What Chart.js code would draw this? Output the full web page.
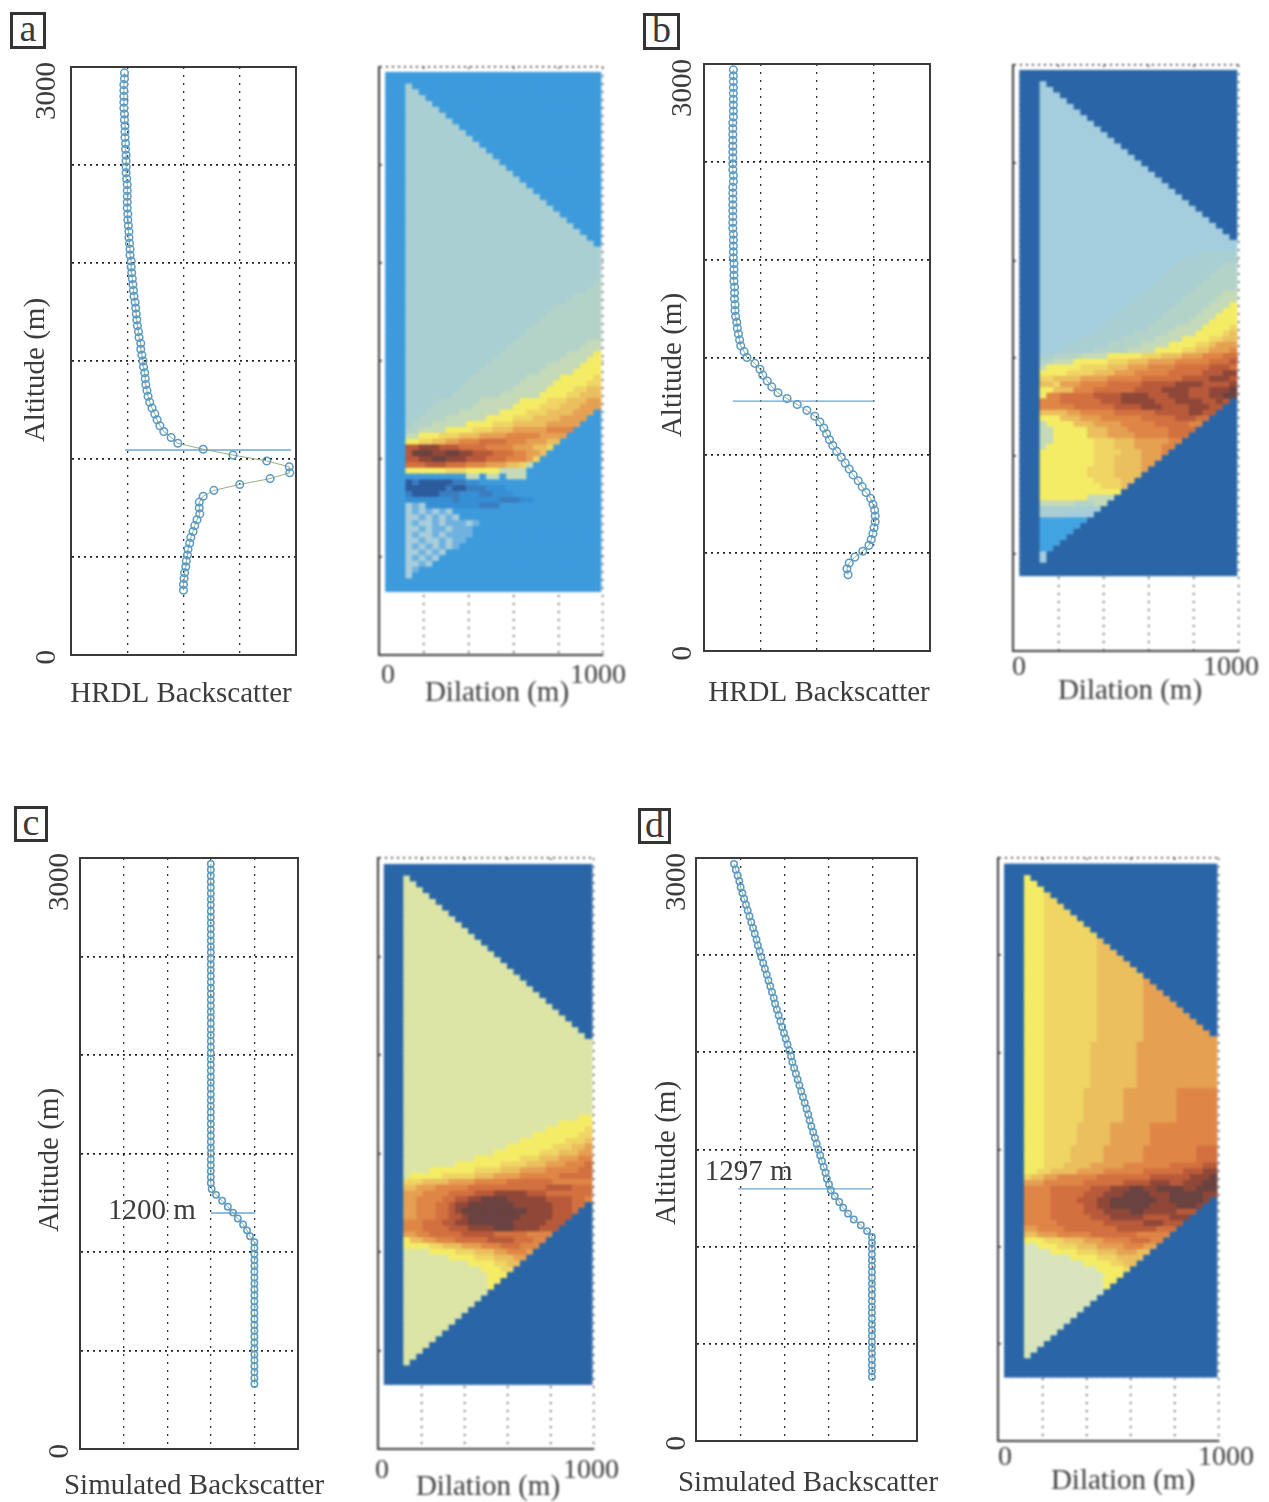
<!DOCTYPE html>
<html>
<head>
<meta charset="utf-8">
<title>Backscatter and dilation</title>
<script src="https://cdn.jsdelivr.net/npm/chart.js@4"></script>
<style>
html, body { margin: 0; padding: 0; background: #fff; }
#page { position: relative; width: 1269px; height: 1502px; overflow: hidden; }
canvas { position: absolute; filter: blur(0.5px); }
canvas.heat { filter: blur(0.9px); }
.letter { position: absolute; box-sizing: border-box; border: 3px solid #333; background: #fff;
    font: 38px "Liberation Serif", serif; color: #3a3a3a; text-align: center; line-height: 27px; }
</style>
</head>
<body>
<div id="page">
    <div class="letter" style="left:10px;top:12px;width:36px;height:37px;">a</div>
    <div class="letter" style="left:643px;top:13px;width:37px;height:37px;">b</div>
    <div class="letter" style="left:14px;top:806px;width:34px;height:36px;">c</div>
    <div class="letter" style="left:638px;top:808px;width:33px;height:36px;">d</div>
</div>
<script>
/* ================= DATA ================= */
var altitudeGates = [
    330, 360, 390, 420, 450, 480, 510, 540, 570, 600, 630, 660, 690, 720, 750,
    780, 810, 840, 870, 900, 930, 960, 990, 1020, 1050, 1080, 1110, 1140, 1170, 1200,
    1230, 1260, 1290, 1320, 1350, 1380, 1410, 1440, 1470, 1500, 1530, 1560, 1590, 1620, 1650,
    1680, 1710, 1740, 1770, 1800, 1830, 1860, 1890, 1920, 1950, 1980, 2010, 2040, 2070, 2100,
    2130, 2160, 2190, 2220, 2250, 2280, 2310, 2340, 2370, 2400, 2430, 2460, 2490, 2520, 2550,
    2580, 2610, 2640, 2670, 2700, 2730, 2760, 2790, 2820, 2850, 2880, 2910, 2940, 2970
];
var dilationCols = [
    45, 75, 105, 135, 165, 195, 225, 255, 285, 315, 345, 375, 405, 435, 465, 495,
    525, 555, 585, 615, 645, 675, 705, 735, 765, 795, 825, 855, 885, 915, 945, 975
];
var altitudeTicks = [0, 3000];
var dilationTicks = [0, 1000];

var aBackscatter = [
    2.00, 2.00, 2.01, 2.02, 2.04, 2.05, 2.07, 2.08, 2.11, 2.13, 2.17, 2.20, 2.24, 2.29, 2.28,
    2.28, 2.35, 2.54, 3.00, 3.54, 3.89, 3.88, 3.48, 2.88, 2.35, 1.90, 1.78, 1.65, 1.58, 1.53,
    1.49, 1.44, 1.40, 1.37, 1.35, 1.33, 1.32, 1.31, 1.29, 1.28, 1.26, 1.24, 1.24, 1.21, 1.20,
    1.18, 1.17, 1.16, 1.15, 1.14, 1.12, 1.11, 1.10, 1.09, 1.08, 1.07, 1.07, 1.05, 1.05, 1.04,
    1.03, 1.03, 1.02, 1.01, 1.01, 1.00, 1.00, 1.00, 1.00, 1.00, 0.99, 0.98, 0.98, 0.98, 0.98,
    0.97, 0.97, 0.96, 0.96, 0.96, 0.95, 0.95, 0.94, 0.94, 0.94, 0.94, 0.94, 0.95, 0.95
];
var bBackscatter = [
    2.55, 2.53, 2.57, 2.67, 2.81, 2.92, 2.96, 2.99, 3.01, 3.03, 3.03, 3.02, 2.99, 2.95, 2.87,
    2.80, 2.73, 2.64, 2.57, 2.50, 2.43, 2.35, 2.28, 2.22, 2.17, 2.12, 2.05, 1.96, 1.82, 1.65,
    1.47, 1.31, 1.20, 1.12, 1.04, 0.99, 0.90, 0.76, 0.71, 0.65, 0.63, 0.61, 0.59, 0.58, 0.56,
    0.55, 0.55, 0.54, 0.54, 0.54, 0.53, 0.53, 0.53, 0.53, 0.52, 0.52, 0.52, 0.52, 0.52, 0.51,
    0.51, 0.51, 0.51, 0.51, 0.51, 0.51, 0.51, 0.52, 0.52, 0.51, 0.51, 0.51, 0.51, 0.51, 0.51,
    0.51, 0.51, 0.51, 0.52, 0.52, 0.52, 0.52, 0.52, 0.52, 0.52, 0.52, 0.52
];
var cBackscatter = [
    4.00, 4.00, 4.00, 4.00, 4.00, 4.00, 4.00, 4.00, 4.00, 4.00, 4.00, 4.00, 4.00, 4.00, 4.00,
    4.00, 4.00, 4.00, 4.00, 4.00, 4.00, 4.00, 4.00, 4.00, 4.00, 3.90, 3.83, 3.74, 3.62, 3.51,
    3.39, 3.26, 3.12, 3.02, 3.00, 3.00, 3.00, 3.00, 3.00, 3.00, 3.00, 3.00, 3.00, 3.00, 3.00,
    3.00, 3.00, 3.00, 3.00, 3.00, 3.00, 3.00, 3.00, 3.00, 3.00, 3.00, 3.00, 3.00, 3.00, 3.00,
    3.00, 3.00, 3.00, 3.00, 3.00, 3.00, 3.00, 3.00, 3.00, 3.00, 3.00, 3.00, 3.00, 3.00, 3.00,
    3.00, 3.00, 3.00, 3.00, 3.00, 3.00, 3.00, 3.00, 3.00, 3.00, 3.00, 3.00, 3.00, 3.00
];
var dBackscatter = [
    3.98, 3.98, 3.98, 3.98, 3.98, 3.98, 3.98, 3.98, 3.98, 3.98, 3.98, 3.98, 3.98, 3.98, 3.98,
    3.98, 3.98, 3.98, 3.98, 3.98, 3.98, 3.98, 3.98, 3.98, 3.98, 3.87, 3.73, 3.57, 3.44, 3.33,
    3.24, 3.14, 3.05, 3.01, 2.96, 2.93, 2.89, 2.85, 2.81, 2.77, 2.73, 2.69, 2.65, 2.61, 2.57,
    2.54, 2.50, 2.46, 2.42, 2.38, 2.34, 2.30, 2.26, 2.22, 2.18, 2.15, 2.11, 2.07, 2.03, 1.99,
    1.95, 1.91, 1.87, 1.83, 1.79, 1.76, 1.72, 1.68, 1.64, 1.60, 1.56, 1.52, 1.48, 1.44, 1.40,
    1.37, 1.33, 1.29, 1.25, 1.21, 1.17, 1.13, 1.09, 1.05, 1.01, 0.98, 0.94, 0.90, 0.86
];

/* backscatter span and altitude of the thin marker line in each profile */
var aMarker = { from: 0.96, to: 3.91, altitude: 1046 };
var bMarker = { from: 0.51, to: 3.01, altitude: 1277 };
var cMarker = { from: 3.00, to: 4.02, altitude: 1198 };
var dMarker = { from: 0.95, to: 3.98, altitude: 1297 };

/* colour levels of the dilation cells */
var levelColors = {
    B: "#3d9bdc", D: "#2a66a7", s: "#42a3e2",
    u: "#a4cede", T: "#aacfd2", G: "#b4d3c8", g: "#c4dab8",
    c: "#dce5a6", e: "#d8e5bc",
    y: "#f5ec66", Y: "#efd564", h: "#ebbe5e", o: "#e6a052", O: "#df8646",
    r: "#d2703f", R: "#b85a3a", M: "#8f4738", k: "#6a4240",
    n: "#2d5c9e", p: "#3a7dbf", q: "#368fd4", w: "#a8cddb", v: "#6fb2e0"
};

/* one string per row from the top, run lengths after the three left columns; rest of a row is background */
var aCells = [
    "", "", "1T", "2T", "3T", "4T", "5T", "6T", "7T", "8T", "9T", "10T", "11T", "12T", "13T",
    "14T", "15T", "16T", "17T", "18T", "19T", "20T", "21T", "22T", "23T", "24T", "25T", "26T", "27T", "28T",
    "29T", "29T", "29T", "29T", "29T", "29T", "28T1G", "27T2G", "25T4G", "24T5G",
    "22T7G", "21T8G", "20T9G", "19T10G", "18T11G", "17T12G", "16T11G2g", "15T11G3g", "14T10G4g1y", "13T10G4g2y",
    "12T9G5g3y", "11T9G5g4y", "10T8G5g5y1Y", "9T8G5g5y2Y", "8T8G5g4y2Y2h", "7T7G6g4y2Y3h", "5T6G6g4y3Y3h2o", "4T6G6g4y3Y3h3o",
    "3T5G6g4y3Y4h3o", "2T4G6g4y3Y4h4o", "1T3G5g4y3Y5h5o", "2G4g4y3Y3h5o4O", "2g3y3Y3h4o5O4o", "2y2Y2h2o3O4r3O3o2h",
    "2R3M3R4r4O3o2h1Y", "1R3k2M2k2M3R3r2O2o1h", "2R2M2k3M3R3r3O1o1Y", "3r3R3r3O3o2h1Y1g", "6y3Y5y4g", "9B2g1B2g1B3g",
    "1n1p5n2p2q", "6n1p2n3p3q", "1p4n3p3q2p3q", "7q1p6q3p2q", "1w1v1w8q3p", "1w1v1w1v1w1v1w", "2w1v1w1v1w1v1w", "1w1v2w1v1w1v2v1w1v", "2w1v1w2v1w3v",
    "1w1v2w1v1w4v", "2w1v2w1v1w2v", "1w1v1w1v1w1v1w1v", "2w1v1w1v1w", "1w1v1w1v1w", "2w1v1w", "1w1v", "1w"
];
var bCells = [
    "", "", "1u", "2u", "3u", "4u", "5u", "6u", "7u", "8u", "9u", "10u", "11u", "12u", "13u",
    "14u", "15u", "16u", "17u", "18u", "19u", "20u", "21u", "22u", "23u", "24u", "25u", "26u", "27u", "28u",
    "29u", "29u", "23u6T", "21u8T", "20u7T2G", "19u7T3G", "18u7T4G", "17u7T5G", "16u7T6G", "15u7T5G2g",
    "14u7T5G3g", "13u7T5G3g1y", "12u7T5G3g2y", "11u7T5G3g3y", "10u7T5G3g4y", "9u7T4G4g4y1Y", "8u6T5G4g4y1Y1h",
    "6u6T5G4g4y2Y2h", "4u6T5G4g4y2Y1h3o", "3u5T5G4g4y2Y2h3o1O", "2T4G4g5y3Y3h3o3O2r", "2G3g5y3Y3h4o5O3r1R",
    "1g5y4Y3h3o4O5r3R1r", "4y4Y3h3o5O5r3R2M", "2Y4h4o5O6r4R3M1R", "2h1Y3o4O5r5R4M4R1M", "2y3h3O6r4R4M3R3M1k",
    "1y2O5r4R4M3R3M3R2M2k", "3O6r3R5M3R4M2R1M1R", "5O6r4R3M4R3M2R", "4h2o5O6r5R2M2R", "3y3h3o6O5r3R2r",
    "1g4y3h4o5O5r2O", "2g5y3h3o6O4r", "2g5y3h4o5O3r", "2g6y3Y3h5o2O", "1g7y3Y3h4o2O", "8y4Y3h3o1O", "8y3Y4h3o",
    "8y3Y4h2o", "7y4Y4h1o", "7y4Y4h", "8y4Y2h", "9y3Y1h", "12y", "7y4g", "5g3G2g", "9T", "4T4u",
    "7s", "6s", "5s", "4s", "3s", "2s", "1u", "1u"
];
var cCells = [
    "", "", "1c", "2c", "3c", "4c", "5c", "6c", "7c", "8c", "9c", "10c", "11c", "12c", "13c",
    "14c", "15c", "16c", "17c", "18c", "19c", "20c", "21c", "22c", "23c", "24c", "25c", "26c", "27c", "28c",
    "29c", "29c", "29c", "29c", "29c", "29c", "29c", "29c", "29c", "29c", "29c", "29c", "29c",
    "27c2y", "24c5y", "22c6y1Y", "20c7y2Y", "18c7y3Y1h", "16c7y3Y2h1o", "14c7y3Y3h2o", "11c7y3Y3h3o2O",
    "8c7y4Y3h3o3O1r", "4c7y4Y3h4o5O2r", "1c5y5Y3h4o6O5r", "3Y4h4o5O7r6O", "2h3o5O12r4R3r", "3o4O4r3R5M3R7r",
    "2o4O2r2R2M4k6M4R2r1O", "2o3O2r1R2M7k6M3R2r", "2o3O2r1R1M10k4M3R1r", "2o3O2r2R1M8k5M3R", "3O3r2R2M7k5M3R",
    "3O4r3R4M3k4M3R", "2o2O5r5R5r4O", "1y2h2o3O5r4R3r2O", "4y2Y3h3o3O3r3O", "4c4y3Y3h2o3O1o", "7c4y3Y3h2o",
    "10c4y2Y2h", "12c3y2Y", "13c3y", "13c2y", "13c1y", "13c", "12c", "11c", "10c", "9c", "8c", "7c", "6c", "5c", "4c", "3c", "2c", "1c"
];
var dCells = [
    "", "", "1y", "2y", "3y", "3y1Y", "3y2Y", "3y3Y", "3y4Y", "3y5Y", "3y6Y", "3y7Y", "3y8Y", "3y8Y1h", "3y8Y2h",
    "3y8Y3h", "3y8Y4h", "3y8Y5h", "3y8Y6h", "3y8Y7h", "3y8Y7h1o", "3y8Y7h2o", "3y8Y7h3o", "3y8Y7h4o", "3y8Y7h5o",
    "3y8Y7h6o", "3y8Y7h7o", "3y8Y7h8o", "3y8Y7h9o", "3y8Y7h10o", "3y8Y7h11o",
    "3y7Y7h12o", "3y7Y7h12o", "3y7Y7h12o", "3y7Y7h12o", "3y7Y7h12o", "3y7Y7h12o", "3y7Y7h12o", "3y7Y7h12o",
    "3y6Y6h8o6O", "3y6Y6h8o6O", "3y6Y6h8o6O", "3y6Y6h8o6O", "3y6Y6h8o6O", "3y6Y6h8o6O",
    "3y5Y5h6o10O", "3y5Y5h6o10O", "3y5Y5h6o10O", "3y5Y5h6o10O", "3y4Y5h6o8O3r", "3y4Y5h6o8O3r", "3y4Y5h6o8O3r",
    "3y3Y4h5o7O5r2R", "2y2Y4h4o6O6r3R2M", "1Y2h2o6O8r6R3M1k", "3o6O6r4R3M2R3M2k", "4O6r3R3M2k2M4k2M3k",
    "4O5r3R3M4k3M5k2M", "4O4r3R2M7k2M5k1M", "4O5r2R2M6k4M3k1M", "4O5r3R4M2k5M3R", "4O6r3R5M4R3M", "5O7r6R3M3R",
    "2o4O8r6R3r", "2h3o5O7r5O", "3y3Y3h3o4O3r2O", "2e3y3Y3h4o3O2o", "4e4y3Y3h3o2h", "7e4y3Y4h", "9e4y2Y2h",
    "11e4y1Y", "12e3y", "12e2y", "12e1y", "12e", "11e", "10e", "9e", "8e", "7e", "6e", "5e", "4e", "3e", "2e", "1e"
];

/* ================= LAYOUT ================= */
var AXIS_LEFT_PROFILE = 60, AXIS_LEFT_HEAT = 12, AXIS_BOTTOM = 62, PAD_TOP = 24, PAD_RIGHT = 36;
var FONT = "'Liberation Serif', serif";
var TEXT_COLOR = "#3c3c3c";

var profilePanels = [
    { left: 71, top: 67, right: 296, bottom: 655, xMax: 4, values: aBackscatter, gateStart: 0, marker: aMarker,
      xTitle: { text: "HRDL Backscatter", x: 181, y: 694 }, yTitle: { text: "Altitude (m)", x: 36, y: 370 },
      tickGap: 24, radius: 3.8 },
    { left: 704, top: 64, right: 930, bottom: 651, xMax: 4, values: bBackscatter, gateStart: 2, marker: bMarker,
      xTitle: { text: "HRDL Backscatter", x: 819, y: 693 }, yTitle: { text: "Altitude (m)", x: 673, y: 365 },
      tickGap: 21, radius: 3.8 },
    { left: 80, top: 858, right: 298, bottom: 1449, xMax: 5, values: cBackscatter, gateStart: 0, marker: cMarker,
      xTitle: { text: "Simulated Backscatter", x: 194, y: 1486 }, yTitle: { text: "Altitude (m)", x: 50, y: 1160 },
      tickGap: 20, radius: 3.2, note: { text: "1200 m", x: 0.64, altitude: 1208 } },
    { left: 696, top: 858, right: 917, bottom: 1441, xMax: 5, values: dBackscatter, gateStart: 0, marker: dMarker,
      xTitle: { text: "Simulated Backscatter", x: 808, y: 1483 }, yTitle: { text: "Altitude (m)", x: 667, y: 1153 },
      tickGap: 19, radius: 3.2, note: { text: "1297 m", x: 0.2, altitude: 1380 } }
];
var heatPanels = [
    { left: 379, top: 67, right: 603, bottom: 655, cells: aCells, background: "B", topAlt: 2955, stepAlt: 29.7,
      labelOffset: -5, zeroPad: "    ", tickPad: 4, xTitle: { text: "Dilation (m)", x: 497, y: 693 } },
    { left: 1013, top: 65, right: 1239, bottom: 651, cells: bCells, background: "D", topAlt: 2955, stepAlt: 29.0,
      labelOffset: -8, zeroPad: "    ", tickPad: 0, xTitle: { text: "Dilation (m)", x: 1130, y: 691 } },
    { left: 378, top: 858, right: 594, bottom: 1449, cells: cCells, background: "D", topAlt: 2950, stepAlt: 29.6,
      labelOffset: -3, zeroPad: "  ", tickPad: 5, xTitle: { text: "Dilation (m)", x: 488, y: 1487 } },
    { left: 998, top: 858, right: 1219, bottom: 1441, cells: dCells, background: "D", topAlt: 2951, stepAlt: 29.6,
      labelOffset: 7, zeroPad: "", tickPad: 0, xTitle: { text: "Dilation (m)", x: 1123, y: 1481 } }
];

/* ================= HELPERS ================= */
function addCanvas(panel, axisLeft, className) {
    var canvas = document.createElement("canvas");
    canvas.width = panel.right - panel.left + axisLeft + PAD_RIGHT;
    canvas.height = panel.bottom - panel.top + PAD_TOP + AXIS_BOTTOM;
    canvas.style.left = (panel.left - axisLeft) + "px";
    canvas.style.top = (panel.top - PAD_TOP) + "px";
    if (className) canvas.className = className;
    document.getElementById("page").appendChild(canvas);
    return canvas.getContext("2d");
}

/* keep the plot box where the panel says, whatever size the tick labels are */
function fixSize(w, h) {
    return function (scale) {
        if (w !== null) scale.width = w;
        if (h !== null) scale.height = h;
        scale.paddingLeft = scale.paddingRight = scale.paddingTop = scale.paddingBottom = 0;
    };
}

function baseOptions() {
    return {
        responsive: false,
        animation: false,
        devicePixelRatio: 1,
        events: [],
        layout: { padding: { top: PAD_TOP, right: PAD_RIGHT, left: 0, bottom: 0 } },
        plugins: { legend: { display: false }, tooltip: { enabled: false } },
        scales: {}
    };
}

function decodeRow(text, background) {
    var row = [background, background, background];
    var re = /(\d+)([A-Za-z])/g, m, i;
    while ((m = re.exec(text)) !== null) {
        for (i = 0; i < Number(m[1]); i++) row.push(m[2]);
    }
    while (row.length < dilationCols.length) row.push(background);
    return row;
}

/* axis titles run past the plot box here, so they are placed by hand instead of by the scale */
var panelTextPlugin = {
    id: "panelText",
    afterDatasetsDraw: function (chart) {
        var opts = chart.options.plugins.panelText;
        if (!opts) return;
        var ctx = chart.ctx;
        var ox = chart.canvas.offsetLeft, oy = chart.canvas.offsetTop;
        ctx.save();
        ctx.font = "29px " + FONT;
        ctx.fillStyle = TEXT_COLOR;
        ctx.textBaseline = "middle";
        ctx.textAlign = "center";
        if (opts.xTitle) ctx.fillText(opts.xTitle.text, opts.xTitle.x - ox, opts.xTitle.y - oy);
        if (opts.yTitle) {
            ctx.save();
            ctx.translate(opts.yTitle.x - ox, opts.yTitle.y - oy);
            ctx.rotate(-Math.PI / 2);
            ctx.fillText(opts.yTitle.text, 0, 0);
            ctx.restore();
        }
        if (opts.note) {
            ctx.textAlign = "left";
            ctx.fillText(opts.note.text, chart.scales.x.getPixelForValue(opts.note.x), chart.scales.y.getPixelForValue(opts.note.altitude));
        }
        ctx.restore();
    }
};

/* ================= PROFILE ================= */
function drawProfile(panel) {
    var ctx = addCanvas(panel, AXIS_LEFT_PROFILE);
    var gates = altitudeGates.slice(panel.gateStart);
    var points = panel.values.map(function (v, i) { return { x: v, y: gates[i] }; });
    var options = baseOptions();
    options.plugins.panelText = { xTitle: panel.xTitle, yTitle: panel.yTitle, note: panel.note };
    options.scales.x = {
        type: "linear", min: 0, max: panel.xMax,
        afterFit: fixSize(null, AXIS_BOTTOM),
        grid: { color: "#333", lineWidth: 1.3, drawTicks: false },
        border: { color: "#3a3a3a", width: 2, dash: [2, 6] },
        ticks: { display: false, stepSize: 1 }
    };
    options.scales.y = {
        type: "linear", min: 0, max: 3000,
        afterFit: fixSize(AXIS_LEFT_PROFILE, null),
        grid: { color: "#222", lineWidth: 1.7, drawTicks: false },
        border: { color: "#3a3a3a", width: 2, dash: [2, 4] },
        ticks: {
            stepSize: 500, autoSkip: false, minRotation: 90, maxRotation: 90,
            padding: panel.tickGap, labelOffset: -5, color: TEXT_COLOR,
            font: { family: FONT, size: 29 },
            callback: function (v) { return altitudeTicks.indexOf(v) >= 0 ? String(v) : ""; }
        }
    };
    options.scales.xTop = {
        type: "linear", position: "top", min: 0, max: panel.xMax, afterFit: fixSize(null, 0),
        grid: { drawOnChartArea: false, drawTicks: false },
        border: { color: "#3a3a3a", width: 2 }, ticks: { display: false }
    };
    options.scales.yRight = {
        type: "linear", position: "right", min: 0, max: 3000, afterFit: fixSize(0, null),
        grid: { drawOnChartArea: false, drawTicks: false },
        border: { color: "#3a3a3a", width: 2 }, ticks: { display: false }
    };
    new Chart(ctx, {
        type: "scatter",
        plugins: [panelTextPlugin],
        data: {
            datasets: [
                {
                    data: points, showLine: true, borderColor: "#94b07e", borderWidth: 1,
                    pointRadius: panel.radius, pointBackgroundColor: "rgba(0,0,0,0)",
                    pointBorderColor: "#5a9ac4", pointBorderWidth: 1.5
                },
                {
                    data: [{ x: panel.marker.from, y: panel.marker.altitude }, { x: panel.marker.to, y: panel.marker.altitude }],
                    showLine: true, borderColor: "#6fa5cf", borderWidth: 1.3, pointRadius: 0
                }
            ]
        },
        options: options
    });
}

/* ================= DILATION CELLS ================= */
function drawHeat(panel) {
    var ctx = addCanvas(panel, AXIS_LEFT_HEAT, "heat");
    var points = [], colors = [];
    for (var r = 0; r < altitudeGates.length; r++) {
        var row = decodeRow(panel.cells[r] || "", panel.background);
        for (var c = 0; c < dilationCols.length; c++) {
            points.push({ x: dilationCols[c], y: panel.topAlt - r * panel.stepAlt });
            colors.push(levelColors[row[c]]);
        }
    }
    var options = baseOptions();
    options.plugins.panelText = { xTitle: panel.xTitle };
    options.scales.x = {
        type: "linear", min: 0, max: 1000,
        afterFit: fixSize(null, AXIS_BOTTOM),
        grid: { color: "#333", lineWidth: 1.3, drawTicks: false },
        border: { color: "#3a3a3a", width: 2, dash: [2, 6] },
        ticks: {
            stepSize: 200, autoSkip: false, maxRotation: 0, padding: panel.tickPad,
            labelOffset: panel.labelOffset, color: TEXT_COLOR,
            font: { family: FONT, size: 28 },
            callback: function (v) {
                if (dilationTicks.indexOf(v) < 0) return "";
                return v === 0 ? panel.zeroPad + v : String(v);
            }
        }
    };
    options.scales.y = {
        type: "linear", min: 0, max: 3000,
        afterFit: fixSize(AXIS_LEFT_HEAT, null),
        grid: { color: "#222", lineWidth: 1.5, drawTicks: false },
        border: { color: "#3a3a3a", width: 2, dash: [2, 4] },
        ticks: { display: false, stepSize: 500 }
    };
    new Chart(ctx, {
        type: "scatter",
        plugins: [panelTextPlugin],
        data: {
            datasets: [{
                data: points, pointStyle: "rect", pointRadius: 5.5, borderWidth: 0,
                pointBorderWidth: 0, pointBackgroundColor: colors
            }]
        },
        options: options
    });
}

/* ================= DRAW ================= */
profilePanels.forEach(drawProfile);
heatPanels.forEach(drawHeat);
</script>
</body>
</html>
